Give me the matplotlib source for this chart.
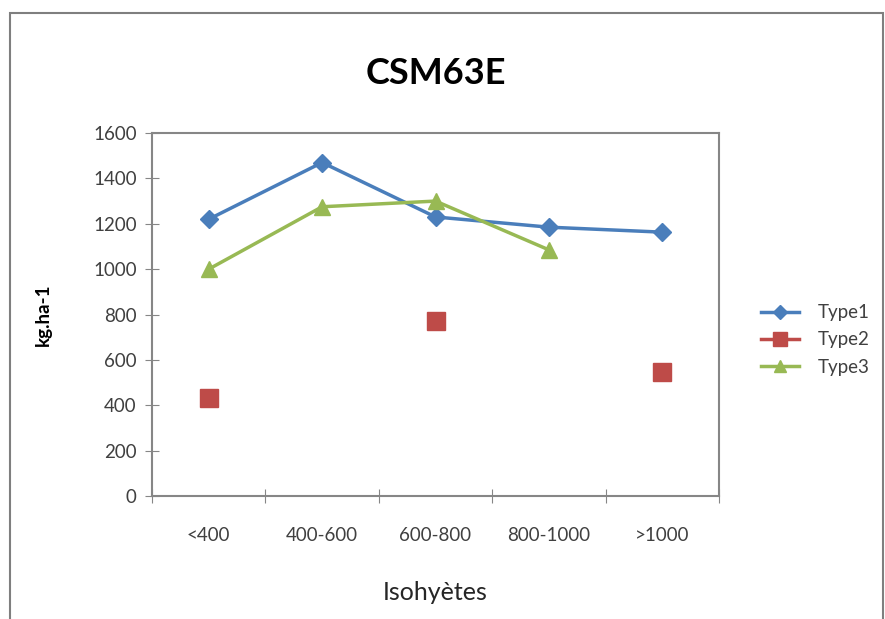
import matplotlib.pyplot as plt
import numpy as np
from matplotlib.patches import Rectangle

categories = ['<400', '400-600', '600-800', '800-1000', '>1000']
type1 = [1220, 1470, 1230, 1185, 1163]
type2 = [430, np.nan, 770, np.nan, 548]
type3 = [1000, 1275, 1300, 1085, np.nan]

plt.rcParams['font.family'] = ['Lato', 'DejaVu Sans']

fig = plt.figure(figsize=(8.85, 6.19), dpi=100)
ax = fig.add_axes([0.1718, 0.1987, 0.6406, 0.5864])

x = np.arange(len(categories))
ax.plot(x, type1, color='#4A7EBB', lw=2.5, marker='D', ms=9, label='Type1')
ax.plot(x, type2, color='#BE4B48', lw=2.5, marker='s', ms=13, label='Type2')
ax.plot(x, type3, color='#98B954', lw=2.5, marker='^', ms=11, label='Type3')

ax.set_xlim(-0.5, 4.5)
ax.set_ylim(0, 1600)
ax.set_yticks(range(0, 1601, 200))
ax.set_xticks(np.arange(-0.5, 5, 1))
ax.set_xticklabels([])
ax.set_xticks(x, minor=True)
ax.set_xticklabels(categories, minor=True)
ax.tick_params(axis='x', which='minor', length=0, pad=22, labelsize=13.5, colors='#404040')
ax.tick_params(axis='x', which='major', direction='inout', length=10, color='#868686')
ax.tick_params(axis='y', direction='inout', length=10, color='#868686', labelsize=13.5,
               labelcolor='#404040', pad=6)
for s in ax.spines.values():
    s.set_color('#868686')
    s.set_linewidth(1.5)

ax.set_title('CSM63E', fontsize=26, fontweight='bold', pad=35)
ax.set_ylabel('kg.ha-1', fontsize=13.5, fontweight='bold', labelpad=30)
ax.set_xlabel('Isohyètes', fontsize=18, labelpad=27, color='#262626')

ax.legend(loc='center left', bbox_to_anchor=(1.045, 0.43), frameon=False,
          fontsize=13.5, handlelength=2.0, handletextpad=1.0, markerscale=0.75,
          labelspacing=0.55, labelcolor='#404040')

fig.patches.append(Rectangle((10 / 885, -0.05), 873 / 885, 1.05 - 13 / 619,
                             transform=fig.transFigure, fill=False,
                             edgecolor='#7f7f7f', lw=1.5))

fig.savefig('out.png', dpi=100)
